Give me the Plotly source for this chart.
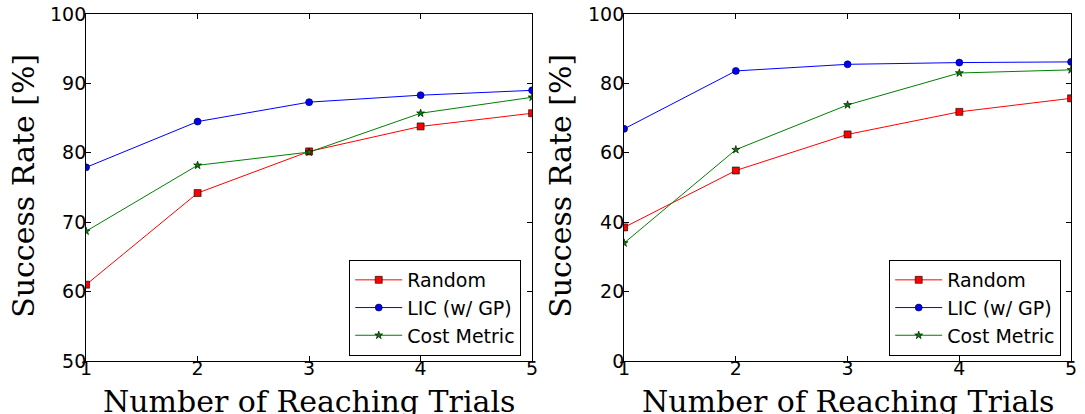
import plotly.graph_objects as go

trials = [1, 2, 3, 4, 5]
series_names = ["Random", "LIC (w/ GP)", "Cost Metric"]

left_random = [61.0, 74.2, 80.2, 83.8, 85.7]
left_lic = [77.9, 84.5, 87.3, 88.3, 89.0]
left_cost = [68.7, 78.2, 80.1, 85.7, 88.0]

right_random = [38.5, 54.9, 65.3, 71.8, 75.7]
right_lic = [66.9, 83.6, 85.5, 86.0, 86.2]
right_cost = [34.0, 60.9, 73.8, 83.0, 83.9]

left_yticks = [50, 60, 70, 80, 90, 100]
right_yticks = [0, 20, 40, 60, 80, 100]

x_title = "Number of Reaching Trials"
y_title = "Success Rate [%]"

W, H = 1085, 414
MT, MB = 14, 53
PH = H - MT - MB

styles = [
    dict(color="#ff0000", symbol="square", size=7),
    dict(color="#0000ff", symbol="circle", size=7),
    dict(color="#008000", symbol="star", size=6),
]

fig = go.Figure()

def add_panel(values, xaxis, yaxis, legend):
    for name, vals, st in zip(series_names, values, styles):
        fig.add_trace(go.Scatter(
            x=trials, y=vals, name=name, mode="lines+markers",
            xaxis=xaxis, yaxis=yaxis, legend=legend, cliponaxis=True,
            line=dict(color=st["color"], width=1),
            marker=dict(color=st["color"], symbol=st["symbol"], size=st["size"],
                        line=dict(color="black", width=0.6)),
        ))

add_panel([left_random, left_lic, left_cost], "x", "y", "legend")
add_panel([right_random, right_lic, right_cost], "x2", "y2", "legend2")

tickfont = dict(family="DejaVu Sans", size=19, color="black")
axis_common = dict(showline=True, linecolor="black", linewidth=1, mirror="ticks",
                   ticks="inside", ticklen=5, tickcolor="black", tickwidth=1,
                   showgrid=False, zeroline=False, tickfont=tickfont)
xaxis_extra = dict(ticklabelstandoff=-10)
yaxis_extra = dict(ticklabelstandoff=-5)

L = (81 / W, 532 / W)
R = (625 / W, 1077 / W)

legend_common = dict(bgcolor="white", bordercolor="black", borderwidth=1,
                     font=dict(family="DejaVu Sans", size=19, color="black"),
                     xanchor="right", yanchor="bottom", itemwidth=47,
                     tracegroupgap=0)

fig.update_layout(
    width=W, height=H,
    margin=dict(l=0, r=0, t=MT, b=MB),
    paper_bgcolor="white", plot_bgcolor="white",
    xaxis=dict(domain=list(L), range=[1, 5], tickvals=trials, anchor="y", **axis_common, **xaxis_extra),
    yaxis=dict(domain=[0, 1], range=[50, 100], tickvals=left_yticks, anchor="x", **axis_common, **yaxis_extra),
    xaxis2=dict(domain=list(R), range=[1, 5], tickvals=trials, anchor="y2", **axis_common, **xaxis_extra),
    yaxis2=dict(domain=[0, 1], range=[0, 100], tickvals=right_yticks, anchor="x2", **axis_common, **yaxis_extra),
    legend=dict(x=521 / W, y=(361 - 356) / PH, **legend_common),
    legend2=dict(x=1067 / W, y=(361 - 356) / PH, **legend_common),
)

title_font = dict(family="DejaVu Serif", size=30, color="black")
for cx in [(81 + 532) / 2, (625 + 1077) / 2]:
    fig.add_annotation(text=x_title, xref="paper", yref="paper",
                       x=cx / W, y=(361 - 401) / PH, xanchor="center", yanchor="middle",
                       showarrow=False, font=title_font)
for cx in [17, 560]:
    fig.add_annotation(text=y_title, xref="paper", yref="paper", textangle=-90,
                       x=cx / W, y=(361 - 186) / PH, xanchor="center", yanchor="middle",
                       showarrow=False, font=title_font)

fig.write_html("out.html", config={"displayModeBar": False},
               post_script="document.body.style.margin='0';document.body.style.overflow='hidden';")
